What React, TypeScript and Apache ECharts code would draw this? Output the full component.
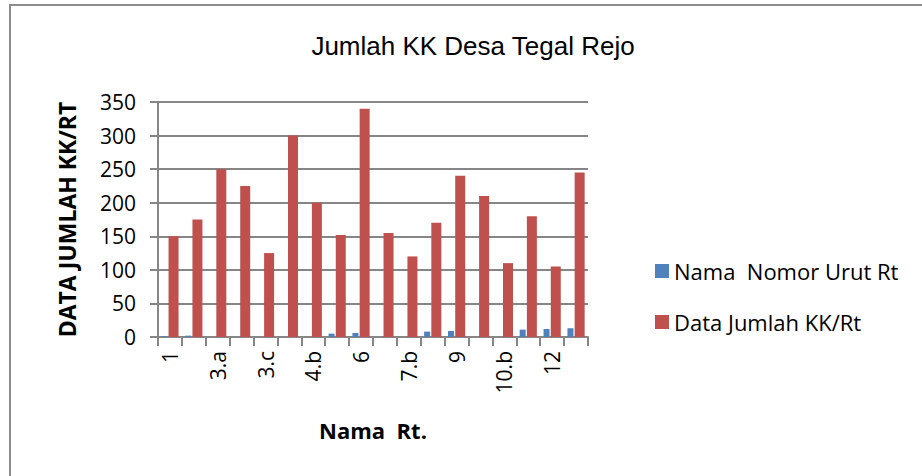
import React, { useEffect, useRef } from "react";
import * as echarts from "echarts";

const categories = ["1", "2", "3.a", "3.b", "3.c", "4.a", "4.b", "5", "6", "7.a", "7.b", "8", "9", "10.a", "10.b", "11", "12", "13"];
const nomorUrut = [1, 2, 0, 0, 0, 0, 0, 5, 6, 0, 0, 8, 9, 0, 0, 11, 12, 13];
const jumlahKK = [150, 175, 250, 225, 125, 300, 200, 152, 340, 155, 120, 170, 240, 210, 110, 180, 105, 245];
const yTicks = { min: 0, max: 350, interval: 50 };

export default function App() {
  const ref = useRef<HTMLDivElement>(null);
  useEffect(() => {
    const chart = echarts.init(ref.current!, null, { renderer: "svg" });
    const font = "'Open Sans', 'Noto Sans', sans-serif";
    chart.setOption({
      animation: false,
      backgroundColor: "#ffffff",
      title: {
        text: "Jumlah KK Desa Tegal Rejo",
        left: 468,
        top: 28,
        textAlign: "center",
        textStyle: { fontFamily: "'Liberation Sans', Arial, sans-serif", fontSize: 26, fontWeight: "normal", color: "#000" },
      },
      graphic: [
        {
          type: "rect",
          shape: { x: 10, y: 5, width: 1000, height: 1000 },
          style: { fill: "none", stroke: "#8c8c8c", lineWidth: 2 },
          silent: true,
        },
      ],
      legend: {
        orient: "vertical",
        left: 650,
        top: 255,
        itemWidth: 14,
        itemHeight: 14,
        itemGap: 29,
        icon: "rect",
        textStyle: { fontFamily: font, fontSize: 22, color: "#000", padding: [0, 0, 0, 0] },
        data: ["Nama  Nomor Urut Rt", "Data Jumlah KK/Rt"],
      },
      grid: { left: 158, right: 334, top: 102, bottom: 139 },
      xAxis: {
        type: "category",
        data: categories,
        name: "Nama  Rt.",
        nameLocation: "middle",
        nameGap: 82,
        nameTextStyle: { fontFamily: font, fontSize: 22, fontWeight: "bold", color: "#000" },
        axisLine: { lineStyle: { color: "#868686", width: 2 } },
        axisTick: { show: true, interval: 0, length: 9, lineStyle: { color: "#868686", width: 2 } },
        axisLabel: { interval: 1, rotate: 90, margin: 14, fontFamily: font, fontSize: 21, color: "#000" },
      },
      yAxis: {
        type: "value",
        min: yTicks.min,
        max: yTicks.max,
        interval: yTicks.interval,
        name: "DATA JUMLAH KK/RT",
        nameLocation: "middle",
        nameGap: 80,
        nameTextStyle: { fontFamily: font, fontSize: 23, fontWeight: "bold", color: "#000" },
        axisLine: { show: true, lineStyle: { color: "#868686", width: 2 } },
        axisTick: { show: true, length: 8, lineStyle: { color: "#868686", width: 2 } },
        axisLabel: { margin: 22, fontFamily: font, fontSize: 21, color: "#000" },
        splitLine: { show: true, lineStyle: { color: "#868686", width: 2 } },
      },
      series: [
        {
          name: "Nama  Nomor Urut Rt",
          type: "bar",
          data: nomorUrut,
          barWidth: 6,
          barGap: "20%",
          itemStyle: { color: "#4F81BD" },
        },
        {
          name: "Data Jumlah KK/Rt",
          type: "bar",
          data: jumlahKK,
          barWidth: 10,
          itemStyle: { color: "#C0504D" },
        },
      ],
    });
    return () => chart.dispose();
  }, []);
  return <div ref={ref} style={{ position: "fixed", left: 0, top: 0, width: 922, height: 476 }} />;
}
